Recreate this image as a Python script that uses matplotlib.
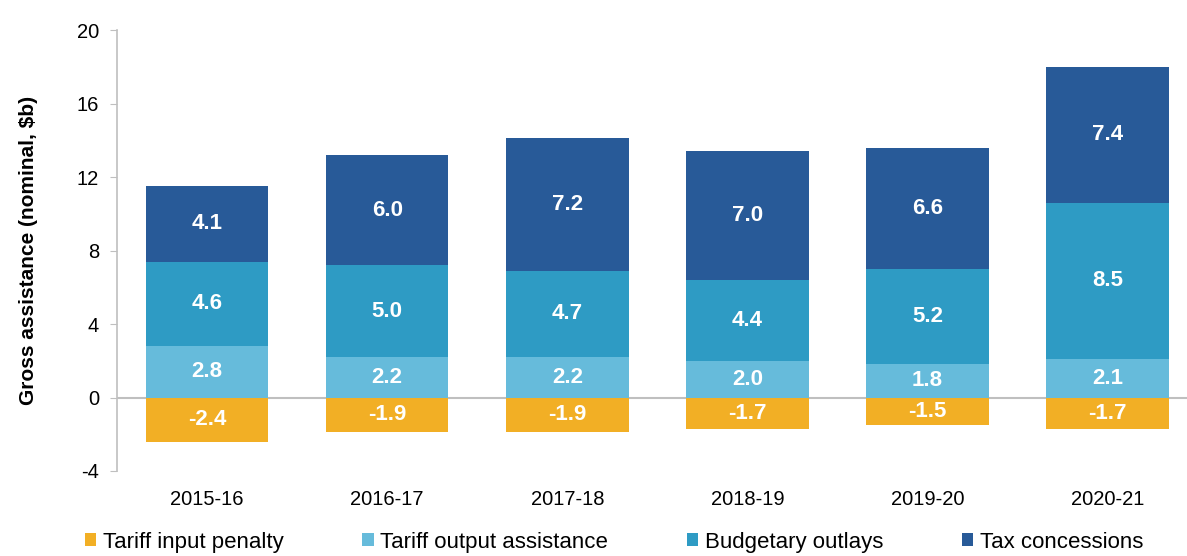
import numpy as np
import matplotlib.pyplot as plt

plt.rcParams['font.family'] = ['Liberation Sans', 'DejaVu Sans']
plt.rcParams['axes.unicode_minus'] = False

# Datos
years = ["2015-16", "2016-17", "2017-18", "2018-19", "2019-20", "2020-21"]
tariff_input = [-2.4, -1.9, -1.9, -1.7, -1.5, -1.7]
tariff_output = [2.8, 2.2, 2.2, 2.0, 1.8, 2.1]
budgetary = [4.6, 5.0, 4.7, 4.4, 5.2, 8.5]
tax = [4.1, 6.0, 7.2, 7.0, 6.6, 7.4]

c_input = "#F2AF25"
c_output = "#66BBDB"
c_budget = "#2E9BC4"
c_tax = "#285A98"

x = np.arange(len(years))
w = 0.68

fig = plt.figure(figsize=(11.87, 5.56), dpi=100)
ax = fig.add_axes([117 / 1187, 85 / 556, 1 - 117 / 1187, 441 / 556])

b1 = ax.bar(x, tariff_input, w, color=c_input, label="Tariff input penalty")
b2 = ax.bar(x, tariff_output, w, color=c_output, label="Tariff output assistance")
bot = np.array(tariff_output)
b3 = ax.bar(x, budgetary, w, bottom=bot, color=c_budget, label="Budgetary outlays")
bot = bot + np.array(budgetary)
b4 = ax.bar(x, tax, w, bottom=bot, color=c_tax, label="Tax concessions")

for bars, vals in [(b1, tariff_input), (b2, tariff_output), (b3, budgetary), (b4, tax)]:
    for rect, v in zip(bars, vals):
        cy = rect.get_y() + rect.get_height() / 2
        ax.text(rect.get_x() + rect.get_width() / 2, cy, f"{v:.1f}",
                ha="center", va="center", color="white", fontsize=16,
                fontweight="bold")

ax.axhline(0, color="#BFBFBF", lw=1.5, zorder=0.5)
ax.set_ylim(-4, 20)
ax.set_yticks(range(-4, 21, 4))
ax.set_xlim(-0.5, 5.44)
ax.set_xticks(x)
ax.set_xticklabels(years)
ax.tick_params(axis="x", length=0, labelsize=14.5, pad=14)
ax.tick_params(axis="y", length=5, color="#BFBFBF", labelsize=14.5, pad=8)
for s in ["top", "right", "bottom"]:
    ax.spines[s].set_visible(False)
ax.spines["left"].set_color("#BFBFBF")
ax.spines["left"].set_linewidth(1.2)
ax.set_ylabel("Gross assistance (nominal, $b)", fontsize=15, fontweight="bold",
              labelpad=28)

fig.legend(handles=[b1, b2, b3, b4], loc="lower left", bbox_to_anchor=(65 / 1187, -0.03),
           ncol=4, frameon=False, fontsize=16, handlelength=0.5, handleheight=0.5,
           handletextpad=0.3, columnspacing=3.55)

fig.savefig("out.png", dpi=100)
